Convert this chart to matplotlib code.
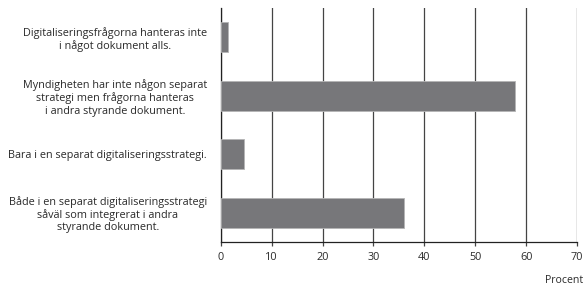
import matplotlib
matplotlib.use('agg')
import matplotlib.pyplot as plt

categories = [
    'Digitaliseringsfrågorna hanteras inte\ni något dokument alls.',
    'Myndigheten har inte någon separat\nstrategi men frågorna hanteras\ni andra styrande dokument.',
    'Bara i en separat digitaliseringsstrategi.',
    'Både i en separat digitaliseringsstrategi\nsåväl som integrerat i andra\nstyrande dokument.',
]
values = [1.5, 57.9, 4.5, 36.0]
xticks = [0, 10, 20, 30, 40, 50, 60, 70]

plt.rcParams['font.family'] = ['Open Sans', 'DejaVu Sans']

fig = plt.figure(figsize=(5.84, 2.89), dpi=100)
ax = fig.add_axes([0.378, 0.163, 0.61, 0.809])

pos = list(range(len(categories)))
ax.barh(pos, values, height=0.51, color='#77777a', edgecolor='#b5b5b5',
        linewidth=0.6, zorder=3)

ax.set_xlim(0, 70)
ax.set_ylim(3.5, -0.5)
ax.set_xticks(xticks)
ax.set_xticklabels([str(t) for t in xticks], fontsize=7.8, color='#2a2a2a')
ax.set_yticks(pos)
ax.set_yticklabels(categories, fontsize=7.8, color='#2a2a2a')
for lab in ax.get_yticklabels():
    lab.set_multialignment('center')
    lab.set_linespacing(1.15)

ax.xaxis.grid(True, color='#444444', linewidth=0.9, zorder=0)
ax.tick_params(axis='x', length=3, width=0.9, color='#444444', pad=4)
ax.tick_params(axis='y', length=0, pad=10)

for side in ['top', 'right']:
    ax.spines[side].set_visible(False)
for side in ['left', 'bottom']:
    ax.spines[side].set_color('#222222')
    ax.spines[side].set_linewidth(0.9)

fig.text(0.998, 0.01, 'Procent', ha='right', va='bottom', fontsize=7.6,
         color='#2a2a2a')

fig.savefig('out.png', dpi=100)
